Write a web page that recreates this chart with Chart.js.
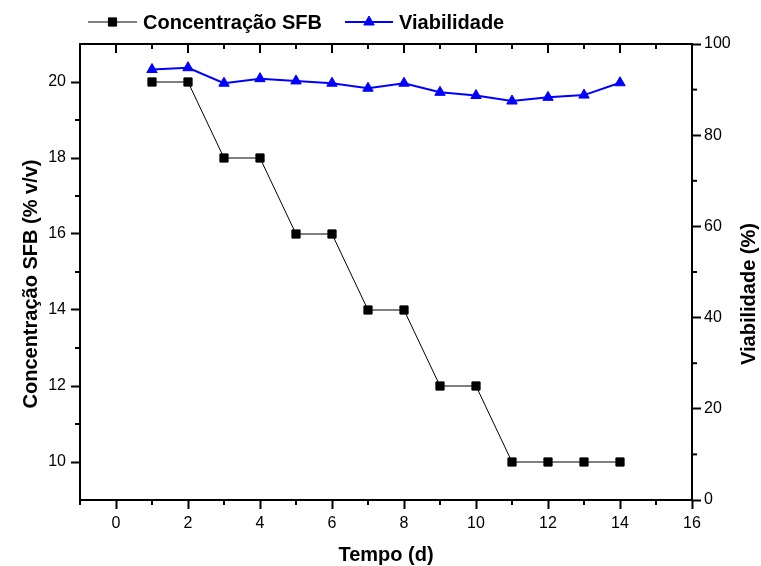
<!DOCTYPE html>
<html>
<head>
<meta charset="utf-8">
<title>Concentração SFB e Viabilidade</title>
<script src="https://cdn.jsdelivr.net/npm/chart.js@4"></script>
<style>
  html, body { margin: 0; padding: 0; background: #fff; }
  #wrap { width: 761px; height: 566px; }
</style>
</head>
<body>
<div id="wrap"><canvas id="chart" width="761" height="566"></canvas></div>
<script>
// Series (x = day of culture)
const days = [1, 2, 3, 4, 5, 6, 7, 8, 9, 10, 11, 12, 13, 14];
const concSFB = [20, 20, 18, 18, 16, 16, 14, 14, 12, 12, 10, 10, 10, 10];
const viabilidade = [94.4, 94.8, 91.4, 92.4, 91.9, 91.4, 90.3, 91.4, 89.4, 88.7, 87.5, 88.3, 88.8, 91.5];

// Axis ticks (labelled) and minor ticks (unlabelled)
const xTicks = [0, 2, 4, 6, 8, 10, 12, 14, 16];
const xMinorTicks = [-1, 1, 3, 5, 7, 9, 11, 13, 15];
const concTicks = [10, 12, 14, 16, 18, 20];
const concMinorTicks = [11, 13, 15, 17, 19];
const viabTicks = [0, 20, 40, 60, 80, 100];
const viabMinorTicks = [10, 30, 50, 70, 90];

const FONT = "'Liberation Sans', Arial, Helvetica, sans-serif";
const MAJOR = 9, MINOR = 5;
const BLUE = '#0000ff';

Chart.defaults.font.family = FONT;
Chart.defaults.color = '#000';

const toPoints = ys => days.map((d, i) => ({ x: d, y: ys[i] }));
const setTicks = list => scale => { scale.ticks = list.map(value => ({ value })); };

const axisGrid = { drawOnChartArea: false, drawTicks: true, tickLength: MAJOR, tickColor: '#000', tickWidth: 2 };
const axisBorder = { display: true, color: '#000', width: 2 };
const tickFont = { size: 16 };

// Top frame line, inward top ticks, minor ticks, vertical axis titles and the legend
const framePlugin = {
  id: 'frame',
  afterDraw(chart) {
    const { ctx, chartArea: a, scales } = chart;
    const x = scales.x, yl = scales.y, yr = scales.y1;
    ctx.save();
    ctx.strokeStyle = '#000';
    ctx.lineWidth = 2;

    const seg = (x1, y1, x2, y2) => {
      ctx.beginPath();
      ctx.moveTo(x1, y1);
      ctx.lineTo(x2, y2);
      ctx.stroke();
    };

    seg(a.left - 1, a.top, a.right + 1, a.top);

    xTicks.forEach(v => { const px = x.getPixelForValue(v); seg(px, a.top, px, a.top + MAJOR); });
    xMinorTicks.forEach(v => {
      const px = x.getPixelForValue(v);
      seg(px, a.top, px, a.top + MINOR);
      seg(px, a.bottom, px, a.bottom + MINOR);
    });
    concMinorTicks.forEach(v => { const py = yl.getPixelForValue(v); seg(a.left - MINOR, py, a.left, py); });
    viabMinorTicks.forEach(v => { const py = yr.getPixelForValue(v); seg(a.right, py, a.right + MINOR, py); });

    // rotated axis titles
    ctx.fillStyle = '#000';
    ctx.font = 'bold 20px ' + FONT;
    ctx.textAlign = 'center';
    ctx.textBaseline = 'middle';
    [[31, 284, 'Concentração SFB (% v/v)'], [749, 294, 'Viabilidade (%)']].forEach(([tx, ty, text]) => {
      ctx.save();
      ctx.translate(tx, ty);
      ctx.rotate(-Math.PI / 2);
      ctx.fillText(text, 0, 0);
      ctx.restore();
    });

    // legend: line + marker + label
    const item = (lx, ly, len, color, lineW, style, radius, label) => {
      ctx.strokeStyle = color;
      ctx.fillStyle = color;
      ctx.lineWidth = lineW;
      seg(lx, ly, lx + len, ly);
      ctx.lineWidth = 1;
      Chart.helpers.drawPoint(ctx, { pointStyle: style, radius, rotation: 0, borderWidth: 1 }, lx + len / 2, ly);
      ctx.fillStyle = '#000';
      ctx.textAlign = 'left';
      ctx.fillText(label, lx + len + 6, ly + 1);
    };
    item(88, 22, 49, '#000', 1, 'rect', 5.8, 'Concentração SFB');
    item(345, 22, 48, BLUE, 2, 'triangle', 6, 'Viabilidade');

    ctx.restore();
  }
};

new Chart(document.getElementById('chart'), {
  type: 'line',
  data: {
    datasets: [
      {
        label: 'Concentração SFB',
        data: toPoints(concSFB),
        yAxisID: 'y',
        borderColor: '#000',
        borderWidth: 1,
        pointStyle: 'rect',
        pointRadius: 5.8,
        pointBackgroundColor: '#000',
        pointBorderColor: '#000',
        pointBorderWidth: 1,
        tension: 0
      },
      {
        label: 'Viabilidade',
        data: toPoints(viabilidade),
        yAxisID: 'y1',
        borderColor: BLUE,
        borderWidth: 2,
        pointStyle: 'triangle',
        pointRadius: 6,
        pointBackgroundColor: BLUE,
        pointBorderColor: BLUE,
        pointBorderWidth: 1,
        tension: 0
      }
    ]
  },
  options: {
    responsive: false,
    animation: false,
    layout: { padding: { top: 44, left: 0, right: 0, bottom: 0 } },
    plugins: { legend: { display: false }, tooltip: { enabled: false } },
    scales: {
      x: {
        type: 'linear',
        position: 'bottom',
        min: -1,
        max: 16,
        afterBuildTicks: setTicks(xTicks),
        afterFit: s => { s.height = 66; },
        ticks: { font: tickFont, padding: 5, maxRotation: 0, autoSkip: false },
        grid: axisGrid,
        border: axisBorder,
        title: {
          display: true,
          text: 'Tempo (d)',
          font: { size: 20, weight: 'bold', lineHeight: 1 },
          padding: { top: 0, bottom: 1 }
        }
      },
      y: {
        type: 'linear',
        position: 'left',
        min: 9,
        max: 21,
        afterBuildTicks: setTicks(concTicks),
        afterFit: s => { s.width = 80; },
        ticks: { font: tickFont, padding: 5 },
        grid: axisGrid,
        border: axisBorder
      },
      y1: {
        type: 'linear',
        position: 'right',
        min: 0,
        max: 100,
        afterBuildTicks: setTicks(viabTicks),
        afterFit: s => { s.width = 69; },
        ticks: { font: tickFont, padding: 3 },
        grid: axisGrid,
        border: axisBorder
      }
    }
  },
  plugins: [framePlugin]
});
</script>
</body>
</html>
